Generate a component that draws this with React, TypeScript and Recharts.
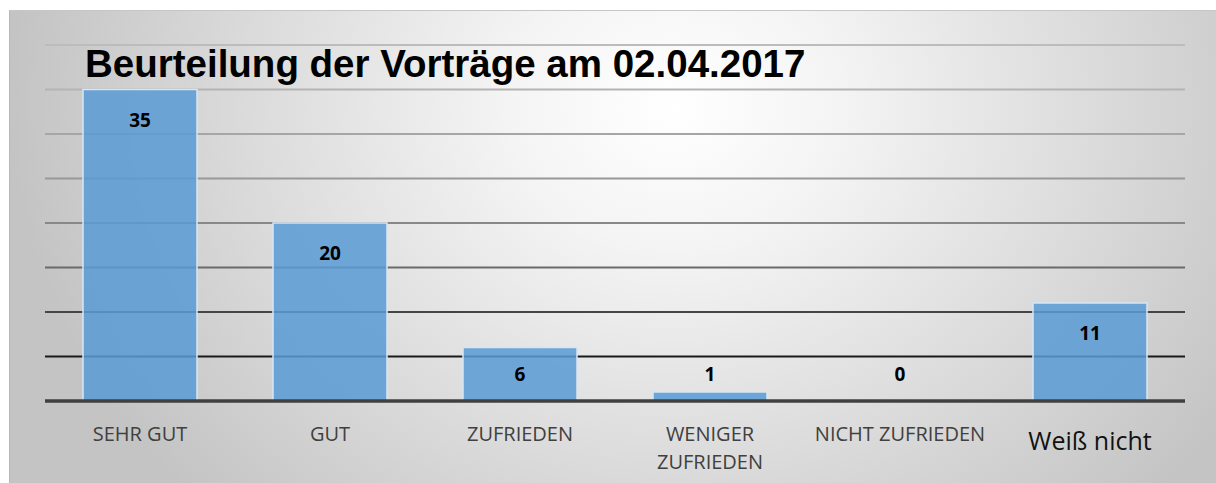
import { BarChart, Bar, XAxis, YAxis, CartesianGrid, LabelList } from 'recharts';

const categories = ['SEHR GUT', 'GUT', 'ZUFRIEDEN', 'WENIGER ZUFRIEDEN', 'NICHT ZUFRIEDEN', 'Weiß nicht'];
const votes = [35, 20, 6, 1, 0, 11];
const yTicks = [0, 5, 10, 15, 20, 25, 30, 35, 40];
const title = 'Beurteilung der Vorträge am 02.04.2017';

const data = categories.map((name, i) => ({ name, votes: votes[i] }));

const W = 1216;
const H = 483;
const X_AXIS_H = 30;
const margin = { top: 45, right: 31, bottom: 82 - X_AXIS_H, left: 45 };
const axisY = H - 82;

// gridlines fade from light grey at the top to nearly black at the bottom
const gridShades = ['#bcbcbc', '#b4b4b4', '#a6a6a6', '#989898', '#888888', '#6a6a6a', '#454545', '#1a1a1a', '#1a1a1a'];

const GridLine = (props: any) => {
    const plotH = axisY - margin.top;
    const t = (props.y1 - margin.top) / plotH;
    const shade = gridShades[Math.round(t * 8)] ?? '#888888';
    return (
        <line key={props.key} x1={props.x1} x2={props.x2} y1={props.y1} y2={props.y2} stroke={shade} strokeWidth={2} />
    );
};

// wrap a label into lines that fit the category width
let ctx: CanvasRenderingContext2D | null = null;
const wrap = (label: string, font: string, maxW: number) => {
    if (!ctx) ctx = document.createElement('canvas').getContext('2d');
    if (!ctx) return [label];
    ctx.font = font;
    const lines: string[] = [];
    let cur = '';
    for (const word of label.split(' ')) {
        const test = cur ? cur + ' ' + word : word;
        if (cur && ctx.measureText(test).width > maxW) {
            lines.push(cur);
            cur = word;
        } else {
            cur = test;
        }
    }
    lines.push(cur);
    return lines;
};

const CategoryTick = ({ x, payload }: any) => {
    const special = payload.value === 'Weiß nicht';
    const fontSize = special ? 25 : 20;
    const lines = wrap(payload.value, `${fontSize}px "Open Sans"`, 186);
    return (
        <text
            x={x}
            y={axisY + (special ? 49 : 40)}
            textAnchor="middle"
            fontSize={fontSize}
            fontFamily="Open Sans"
            fill={special ? '#111111' : '#404040'}
        >
            {lines.map((l, i) => (
                <tspan key={i} x={x} dy={i === 0 ? 0 : 28}>
                    {l}
                </tspan>
            ))}
        </text>
    );
};

const ValueLabel = ({ x, y, width, height, value }: any) => {
    const base = y + height;
    const ty = Math.min(y + 37, base - 20);
    return (
        <text x={x + width / 2} y={ty} textAnchor="middle" fontFamily="Open Sans" fontWeight={700} fontSize={19} fill="#000">
            {value}
        </text>
    );
};

export default function App() {
    return (
        <div style={{ position: 'absolute', left: 0, top: 0, width: W, height: H, background: '#fff', overflow: 'hidden' }}>
            <div
                style={{
                    position: 'absolute',
                    left: 9,
                    top: 10,
                    right: 0,
                    bottom: 0,
                    borderTop: '1px solid #c6c6c6',
                    borderLeft: '1px solid #b8b8b8',
                    background: 'radial-gradient(55% 120% at 55% 20%, #ffffff 0%, #f4f4f4 25%, #c4c4c4 100%)',
                }}
            />
            <div style={{ position: 'absolute', left: 0, top: 0 }}>
                <BarChart width={W} height={H} data={data} margin={margin} barCategoryGap="20%">
                    <CartesianGrid vertical={false} horizontal={GridLine} />
                    <YAxis hide domain={[0, 40]} ticks={yTicks} />
                    <Bar
                        dataKey="votes"
                        fill="#5b9bd5"
                        fillOpacity={0.86}
                        stroke="#d6e6f4"
                        strokeWidth={1.5}
                        minPointSize={(v: number) => (v === 0 ? 1 : 0)}
                        isAnimationActive={false}
                    >
                        <LabelList dataKey="votes" content={ValueLabel} />
                    </Bar>
                    <XAxis
                        dataKey="name"
                        height={X_AXIS_H}
                        interval={0}
                        tickLine={false}
                        axisLine={{ stroke: '#404040', strokeWidth: 3.5 }}
                        tick={CategoryTick}
                    />
                </BarChart>
            </div>
            <div
                style={{
                    position: 'absolute',
                    left: 85,
                    top: 45,
                    fontFamily: '"Liberation Sans", Arial, sans-serif',
                    fontWeight: 700,
                    fontSize: 38.5,
                    lineHeight: '38px',
                    color: '#000',
                    whiteSpace: 'nowrap',
                }}
            >
                {title}
            </div>
        </div>
    );
}
